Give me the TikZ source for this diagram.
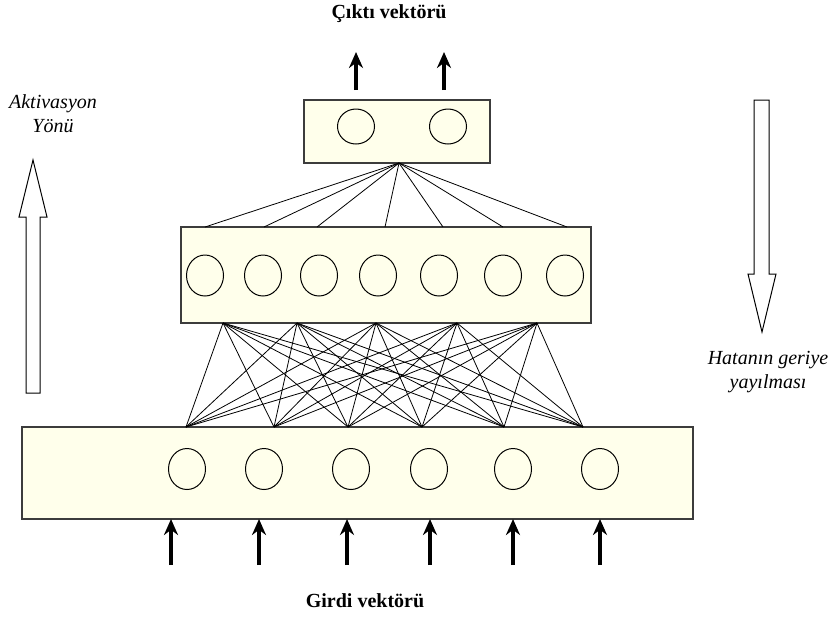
\documentclass[tikz,border=0pt]{standalone}
\usepackage{fontspec}
\setmainfont{Liberation Serif}
\usepackage{tikz}
\usetikzlibrary{shapes.geometric, arrows.meta, positioning, calc}

\definecolor{layerfill}{RGB}{255,255,235}
\definecolor{layerdraw}{RGB}{60,60,60}

\begin{document}
\begin{tikzpicture}[
    x=0.5pt, y=-0.5pt,
    layer/.style={draw=layerdraw, line width=0.7pt, fill=layerfill, inner sep=0pt, outer sep=0pt},
    neuron/.style={draw, ellipse, line width=0.5pt, minimum width=18.5pt, minimum height=20.5pt, inner sep=0pt},
    link/.style={draw, line width=0.4pt},
    io/.style={draw, line width=2pt, -{Stealth[length=8pt, width=7pt]}},
    flow/.style={draw, line width=0.5pt, fill=white},
    vecname/.style={font=\fontsize{10}{12}\selectfont\bfseries},
    dirname/.style={font=\fontsize{10}{12}\selectfont\itshape, align=center}
]
    \useasboundingbox (0,0) rectangle (828,618);

    % Layers
    \node[layer, minimum width=93pt, minimum height=31.5pt] (out) at (397,131.5) {};
    \node[layer, minimum width=205pt, minimum height=48pt] (hid) at (386,275) {};
    \node[layer, minimum width=335.5pt, minimum height=46pt] (inp) at (357.5,473) {};

    % Neurons
    \foreach \x [count=\i] in {356,448}
        \node[neuron, minimum height=17.5pt] (o\i) at (\x,126.5) {};
    \foreach \x [count=\i] in {205,263,319,378,439,503,565}
        \node[neuron] (h\i) at (\x,275.5) {};
    \foreach \x [count=\i] in {187,264,351,429,513,600}
        \node[neuron] (i\i) at (\x,469) {};

    % Weights
    \coordinate (ob) at (399,163);
    \foreach \x [count=\i] in {205,264,317,385,443,503,567}
        \coordinate (ht\i) at (\x,227);
    \foreach \x [count=\i] in {223,297,376,457,537}
        \coordinate (hb\i) at (\x,323);
    \foreach \x [count=\i] in {186,274,348,422,504,583}
        \coordinate (it\i) at (\x,427);

    \foreach \i in {1,...,7}
        \draw[link] (ob) -- (ht\i);
    \foreach \i in {1,...,5}
        \foreach \j in {1,...,6}
            \draw[link] (hb\i) -- (it\j);

    % Input and output vectors
    \foreach \x [count=\i] in {171,259,347,430,513,600} {
        \coordinate (x\i) at (\x,565);
        \draw[io] (x\i) -- (x\i |- inp.south);
    }
    \foreach \x [count=\i] in {356,444} {
        \coordinate (ys\i) at (\x,90);
        \coordinate (y\i) at (\x,52);
        \draw[io] (ys\i) -- (y\i);
    }
    \node[vecname] (outtxt) at (389,14) {Çıktı vektörü};
    \node[vecname] (intxt) at (365,601) {Girdi vektörü};

    % Direction arrows
    \draw[flow] (26,393) -- (26,217) -- (19,217) -- (33,160) -- (47,217) -- (40,217) -- (40,393) -- cycle;
    \draw[flow] (754,100) -- (754,274) -- (748,274) -- (762,332) -- (776,274) -- (769,274) -- (769,100) -- cycle;
    \node[dirname] (acttxt) at (53,114) {Aktivasyon\\Yönü};
    \node[dirname] (errtxt) at (768,372) {Hatanın geriye\\yayılması};
\end{tikzpicture}
\end{document}
